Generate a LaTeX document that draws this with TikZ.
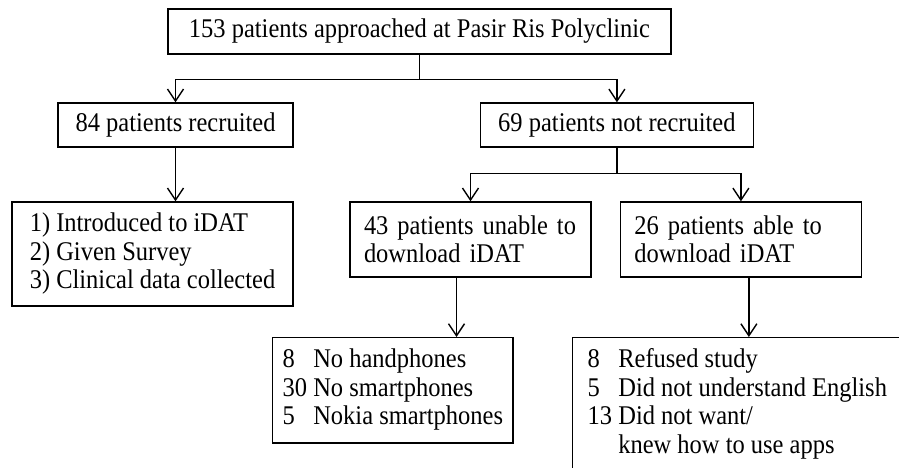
\documentclass[tikz,border=0pt]{standalone}
\usepackage{fontspec}
\setmainfont{Liberation Serif}[FakeStretch=0.907]
\usetikzlibrary{arrows.meta, positioning}

\begin{document}
\begin{tikzpicture}[x=1pt, y=1pt, line width=1.4pt, >={Straight Barb[length=12pt,width=16pt]},
  font=\fontsize{27}{28.5}\selectfont,
  box/.style={draw, rectangle, inner sep=0pt},
  listbox/.style={draw, rectangle, inner xsep=14pt, inner ysep=0pt, align=left}]
\useasboundingbox (0,0) rectangle (899,468);
\clip (0,0) rectangle (899,468);
% Cajas
\node[box, minimum width=503pt, minimum height=45pt] (approached) at (419.5,436.5) {153 patients approached at Pasir Ris Polyclinic};
\node[box, minimum width=235pt, minimum height=44pt] (recruited) at (175.5,343) {84 patients recruited};
\node[box, minimum width=273pt, minimum height=44pt, right=186pt of recruited] (notrecruited) {69 patients not recruited};
\node[box, minimum width=281pt, minimum height=104pt, align=left] (steps) at (152.5,214) {1) Introduced to iDAT\\2) Given Survey\\3) Clinical data collected};
\node[listbox, text width=213pt, minimum height=75pt] (unable) at (470.5,228.5) {43 patients unable to\\download iDAT};
\node[listbox, text width=213pt, minimum height=75pt, right=28pt of unable] (able) {26 patients able to\\download iDAT};
\node[box, anchor=north west, inner xsep=10pt, inner ysep=10pt] (nophone) at (272,131)
  {\begin{tabular}{@{}l@{ }l@{}}8 & No handphones\\30 & No smartphones\\5 & Nokia smartphones\end{tabular}};
\node[box, anchor=north west, inner xsep=15pt, inner ysep=10pt, text depth=110pt] (reasons) at (572,131)
  {\begin{tabular}[t]{@{}l@{ }l@{}}8 & Refused study\\5 & Did not understand English\\13 & Did not want/\\ & knew how to use apps\end{tabular}};

% Flechas
\draw (approached.south) -- ++(0,-25) coordinate (split1);
\draw[->] (split1) -| (recruited);
\draw[->] (split1) -| (notrecruited);
\draw[->] (recruited) -- (recruited |- steps.north);
\draw (notrecruited.south) -- ++(0,-26) coordinate (split2);
\draw[->] (split2) -| (unable);
\draw[->] (split2) -| (able);
\draw[->] ([xshift=-14pt]unable.south) -- ([xshift=-14pt]unable.south |- nophone.north);
\draw[->] ([xshift=8pt]able.south) -- ([xshift=8pt]able.south |- reasons.north);
\end{tikzpicture}
\end{document}
